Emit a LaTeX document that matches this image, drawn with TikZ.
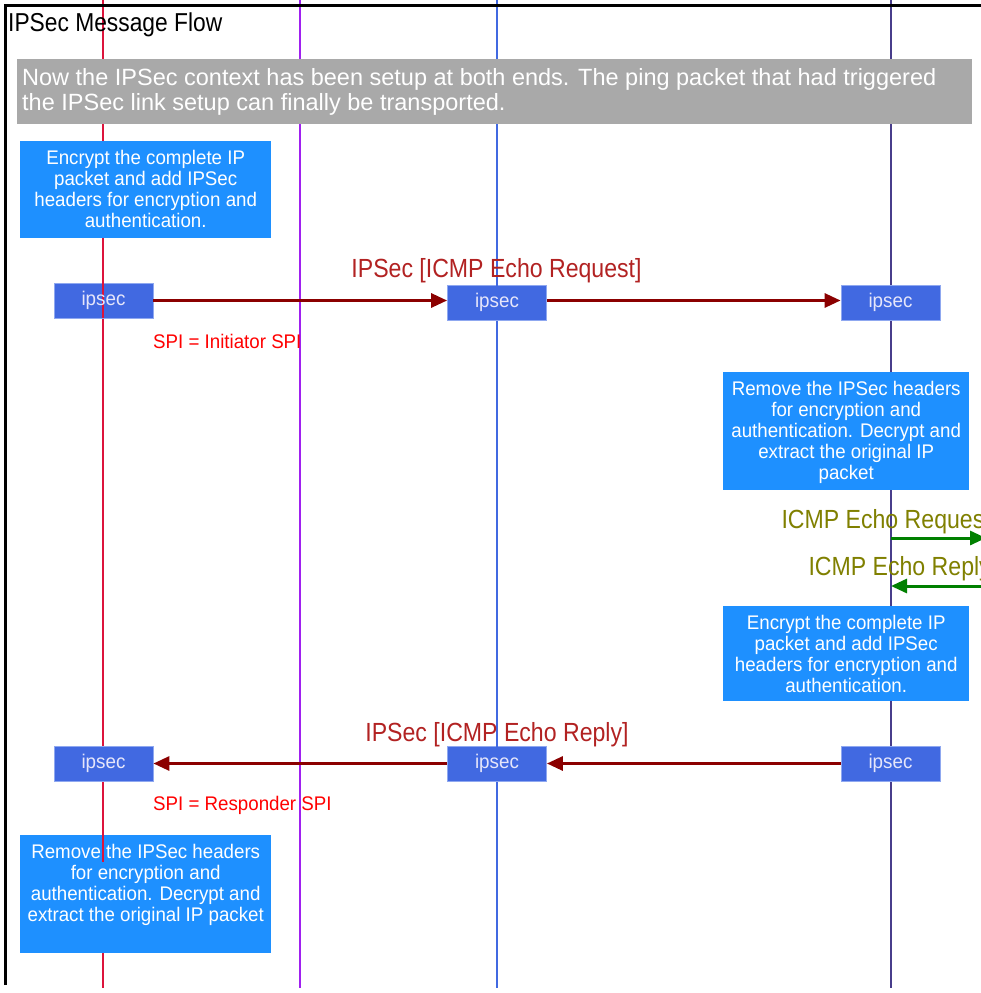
\documentclass[tikz,border=0pt]{standalone}
\usepackage{fontspec}
\setmainfont{Liberation Sans}
\newfontfamily\fnar[FakeStretch=0.88]{Liberation Sans}
\newfontfamily\fmid[FakeStretch=0.95]{Liberation Sans}
\newfontfamily\fnor{Liberation Sans}
\usetikzlibrary{arrows.meta}
\definecolor{lifeA}{HTML}{DC143C}
\definecolor{lifeB}{HTML}{A020F0}
\definecolor{lifeC}{HTML}{4169E1}
\definecolor{lifeD}{HTML}{483D8B}
\definecolor{msgred}{HTML}{8B0000}
\definecolor{lblred}{HTML}{B22222}
\definecolor{notebg}{HTML}{1E90FF}
\definecolor{ipbg}{HTML}{4169E1}
\definecolor{ipborder}{HTML}{8FA8F0}
\definecolor{iptext}{HTML}{E6E6FA}
\definecolor{graybg}{HTML}{A9A9A9}
\definecolor{olivetxt}{HTML}{808000}
\definecolor{greenarr}{HTML}{008000}
\begin{document}
\begin{tikzpicture}[x=1pt,y=-1pt,
  lifeline/.style={line width=1.2pt},
  ipbox/.style={rectangle, draw=ipborder, line width=0.8pt, fill=ipbg,
    minimum width=99pt, minimum height=35pt, inner sep=0pt},
  iptxt/.style={text=iptext, inner sep=0pt, font=\fmid\fontsize{19.8}{21}\selectfont},
  notebox/.style={rectangle, fill=notebg, inner sep=0pt, anchor=north west},
  notetext/.style={text=white, align=center, inner sep=0pt, anchor=north, yshift=-8.6pt,
    font=\fmid\fontsize{19.7}{21}\selectfont},
  msg/.style={draw=msgred, line width=3pt, -{Triangle[length=16pt,width=14pt]}},
  gmsg/.style={draw=greenarr, line width=3pt, -{Triangle[length=16pt,width=14pt]}},
  msglabel/.style={text=lblred, inner sep=0pt, anchor=base, font=\fnar\fontsize{26.25}{28}\selectfont},
  spilabel/.style={text=red, inner sep=0pt, anchor=base west, font=\fmid\fontsize{19.7}{21}\selectfont},
  icmplabel/.style={text=olivetxt, inner sep=0pt, anchor=base east, font=\fnar\fontsize{26.25}{28}\selectfont},
]
\useasboundingbox (0,0) rectangle (981,993);
\fill[white] (0,0) rectangle (981,993);

% lifelines
\coordinate (la-top) at (103,0);  \coordinate (la-bot) at (103,988);
\coordinate (lb-top) at (300,0);  \coordinate (lb-bot) at (300,988);
\coordinate (lc-top) at (497,0);  \coordinate (lc-bot) at (497,988);
\coordinate (ld-top) at (891,0);  \coordinate (ld-bot) at (891,988);
\draw[lifeline, lifeA] (la-top) -- (la-bot);
\draw[lifeline, lifeB] (lb-top) -- (lb-bot);
\draw[lifeline, lifeC] (lc-top) -- (lc-bot);
\draw[lifeline, lifeD] (ld-top) -- (ld-bot);

% frame
\draw[line width=3pt] (5,985) -- (5,5) -- (995,5);
\node[anchor=base west, inner sep=0pt, font=\fnar\fontsize{25.9}{28}\selectfont] (title) at (8,31) {IPSec Message Flow};

% gray banner
\node[rectangle, fill=graybg, anchor=north west, inner sep=0pt, minimum width=955pt, minimum height=65pt] (banner) at (17,59) {};
\node[anchor=north west, inner sep=0pt, align=left, text=white, font=\fnor\fontsize{23.5}{25}\selectfont] (bannertext) at (22,67.9)
  {Now the IPSec context has been setup at both ends. The ping packet that had triggered\\the IPSec link setup can finally be transported.};

% notes
\node[notebox, minimum width=251pt, minimum height=97pt] (n1) at (20,141) {};
\node[notetext] (n1t) at (n1.north) {Encrypt the complete IP\\packet and add IPSec\\headers for encryption and\\authentication.};
\node[notebox, minimum width=246pt, minimum height=118pt] (n2) at (723,372) {};
\node[notetext] (n2t) at (n2.north) {Remove the IPSec headers\\for encryption and\\authentication. Decrypt and\\extract the original IP\\packet};
\node[notebox, minimum width=246pt, minimum height=95pt] (n3) at (723,606) {};
\node[notetext] (n3t) at (n3.north) {Encrypt the complete IP\\packet and add IPSec\\headers for encryption and\\authentication.};
\node[notebox, minimum width=251pt, minimum height=118pt] (n4) at (20,835) {};
\draw[lifeline, lifeA] (n4.north -| la-top) -- ++(0,27);
\node[notetext] (n4t) at (n4.north) {Remove the IPSec headers\\for encryption and\\authentication. Decrypt and\\extract the original IP packet};

% ipsec boxes
\node[ipbox] (ip1) at (103.5,300.5) {};
\node[ipbox] (ip2) at (497,302.5) {};
\node[ipbox] (ip3) at (890.5,302.5) {};
\node[ipbox] (ip4) at (103.5,763.5) {};
\node[ipbox] (ip5) at (497,763.5) {};
\node[ipbox] (ip6) at (890.5,763.5) {};

% lifeline pieces visible through some boxes
\draw[lifeline, lifeA] (ip1.north -| la-top) -- (ip1.south -| la-top);
\draw[lifeline, lifeC] (ip2.north -| lc-top) -- (ip2.south -| lc-top);
\draw[lifeline, lifeC] (ip5.north -| lc-top) -- (ip5.south -| lc-top);

\node[iptxt] (ip1t) at (ip1) {ipsec};
\node[iptxt] (ip2t) at (ip2) {ipsec};
\node[iptxt] (ip3t) at (ip3) {ipsec};
\node[iptxt] (ip4t) at (ip4) {ipsec};
\node[iptxt] (ip5t) at (ip5) {ipsec};
\node[iptxt] (ip6t) at (ip6) {ipsec};

% messages
\draw[msg] (ip1.east) -- (ip1.east -| ip2.west);
\draw[msg] (ip2.east |- ip1.east) -- (ip1.east -| ip3.west);
\draw[msg] (ip6.west) -- (ip5.east);
\draw[msg] (ip5.west) -- (ip4.east);

\node[msglabel] (l1) at (496.5,277) {IPSec [ICMP Echo Request]};
\node[spilabel] (s1) at (153,348) {SPI = Initiator SPI};
\node[msglabel] (l2) at (497,741) {IPSec [ICMP Echo Reply]};
\node[spilabel] (s2) at (153,810) {SPI = Responder SPI};

% ICMP exchange at right edge
\coordinate (reqS) at (891,538);
\coordinate (reqE) at (986,538);
\coordinate (repS) at (995,586);
\coordinate (repE) at (891,586);
\draw[gmsg] (reqS) -- (reqE);
\draw[gmsg] (repS) -- (repE);
\node[icmplabel] (i1) at (991,528) {ICMP Echo Request};
\node[icmplabel] (i2) at (991,575) {ICMP Echo Reply};
\end{tikzpicture}
\end{document}
